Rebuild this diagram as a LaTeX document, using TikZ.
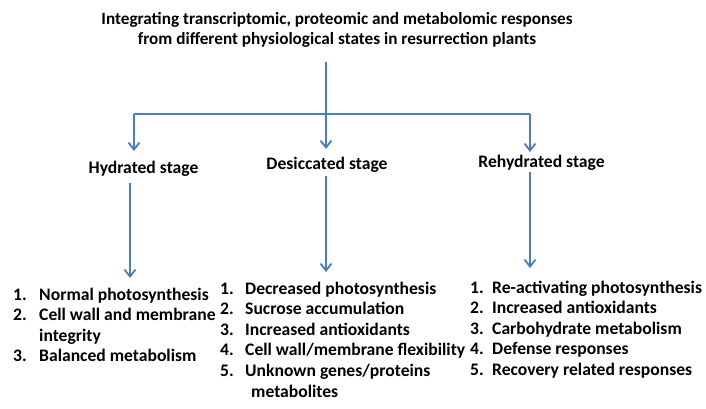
\documentclass[tikz,border=0pt]{standalone}
\usepackage{fontspec}
\setmainfont{Carlito}
\usetikzlibrary{arrows.meta}
\definecolor{arrowblue}{RGB}{74,126,187}
\newcommand{\itm}[1]{\makebox[#1][l]}
\begin{document}
\begin{tikzpicture}[x=1pt,y=-1pt,
  lbl/.style={inner sep=0pt, font=\bfseries\fontsize{17.6}{20.5}\selectfont, text=black},
  ttl/.style={lbl, font=\bfseries\fontsize{17.2}{20.5}\selectfont},
  lst/.style={inner sep=0pt, anchor=base west, font=\bfseries\fontsize{17.6}{20.6}\selectfont, text=black},
  conn/.style={draw=arrowblue, line width=1.8pt},
  arr/.style={conn, -{Straight Barb[length=7pt,width=11pt,line width=1.8pt]}}]
\useasboundingbox (0,0) rectangle (706,408);
% title
\node[ttl, align=center] (title) at (337,30) {Integrating transcriptomic, proteomic and metabolomic responses\\from different physiological states in resurrection plants};
% junction coordinates
\coordinate (top) at (326,62);
\coordinate (j) at (326,114);
\coordinate (jl) at (134,114);
\coordinate (jr) at (530,114);
\coordinate (tl) at (134,151);
\coordinate (tm) at (326,149);
\coordinate (tr) at (530,152);
% stages
\node[lbl] (hyd) at (143.5,169) {Hydrated stage};
\node[lbl] (des) at (327,165) {Desiccated stage};
\node[lbl] (reh) at (541.5,163) {Rehydrated stage};
% start/end coordinates of the lower arrows
\coordinate (hs) at (130,183);
\coordinate (he) at (130,278);
\coordinate (ds) at (326,176);
\coordinate (de) at (326,272);
\coordinate (rs) at (530,172);
\coordinate (re) at (530,268);
% lists
\node[lst] (hl) at (13,300) {\begin{tabular}[t]{@{}l@{}l@{}}
\itm{26pt}{1.} & Normal photosynthesis\\
\itm{26pt}{2.} & Cell wall and membrane\\
 & integrity\\
\itm{26pt}{3.} & Balanced metabolism
\end{tabular}};
\node[lst] (dl) at (220,294) {\begin{tabular}[t]{@{}l@{}l@{}}
\itm{25pt}{1.} & Decreased photosynthesis\\
\itm{25pt}{2.} & Sucrose accumulation\\
\itm{25pt}{3.} & Increased antioxidants\\
\itm{25pt}{4.} & Cell wall/membrane flexibility\\
\itm{25pt}{5.} & Unknown genes/proteins\\
 & \hspace{6pt}metabolites
\end{tabular}};
\node[lst] (rl) at (470,293) {\begin{tabular}[t]{@{}l@{}l@{}}
\itm{22pt}{1.} & Re-activating photosynthesis\\
\itm{22pt}{2.} & Increased antioxidants\\
\itm{22pt}{3.} & Carbohydrate metabolism\\
\itm{22pt}{4.} & Defense responses\\
\itm{22pt}{5.} & Recovery related responses
\end{tabular}};
% connectors
\draw[conn] (top) -- (j);
\draw[conn] (jl) -- (jr);
\draw[arr] (jl) -- (tl);
\draw[arr] (j) -- (tm);
\draw[arr] (jr) -- (tr);
\draw[arr] (hs) -- (he);
\draw[arr] (ds) -- (de);
\draw[arr] (rs) -- (re);
\end{tikzpicture}
\end{document}
